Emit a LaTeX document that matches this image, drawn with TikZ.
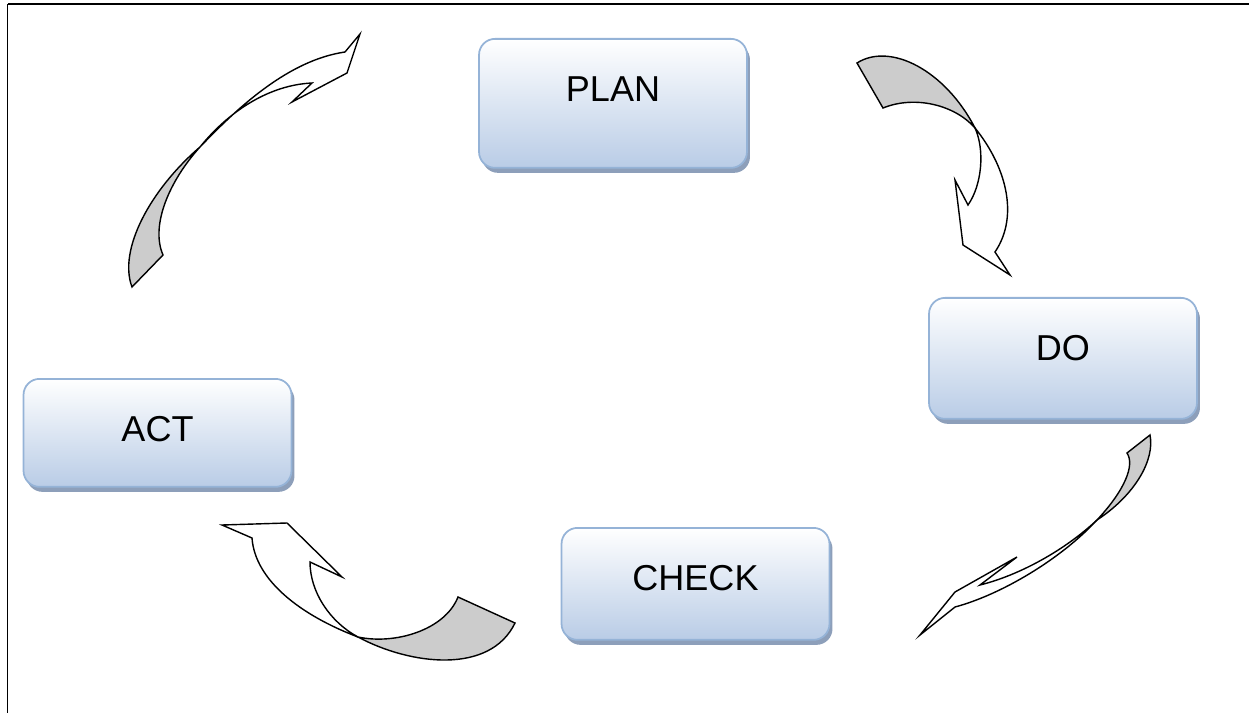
\documentclass[tikz,border=0pt]{standalone}
\usepackage{fontspec}
\setmainfont{Liberation Sans}
\usetikzlibrary{shadows}
\definecolor{boxline}{HTML}{95B3D7}
\definecolor{boxfill}{HTML}{B9CCE6}
\definecolor{boxshadow}{HTML}{8D9FBA}
\tikzset{
	pdcabox/.style={rectangle, rounded corners=0.32cm, draw=boxline, line width=1pt,
		top color=white, bottom color=boxfill,
		general shadow={fill=boxshadow, shadow xshift=0.06cm, shadow yshift=-0.1cm},
		anchor=north, inner sep=0pt, minimum width=5.36cm,
		text height=1.25cm, text depth=#1, font=\fontsize{20.5}{24}\selectfont},
	backface/.style={draw, fill=black!20, line width=0.8pt, line join=miter},
	frontface/.style={draw, fill=white, line width=0.8pt, line join=miter}
}

\begin{document}
\begin{tikzpicture}[x=0.02cm, y=-0.02cm]
		%%%%% START %%%%%
		\useasboundingbox (0, 0) rectangle (1249, 713);
		
		\draw[line width=1.1pt] (1249, 4) -- (7.5, 4);
		\draw[line width=0.6pt] (7.5, 4) -- (7.5, 713);
		
		\node[pdcabox=1.33cm] (plan) at (613, 38) {PLAN};
		\node[pdcabox=1.17cm] (do) at (1063, 297) {DO};
		\node[pdcabox=0.91cm] (act) at (157.5, 378) {ACT};
		\node[pdcabox=0.99cm] (check) at (695.5, 527) {CHECK};
		
		% plan -> do
		\draw[backface] (857, 63) .. controls (890, 42) and (945, 70) .. (975, 128)
			.. controls (955, 105) and (915, 95) .. (883, 108) -- cycle;
		\draw[frontface] (975, 128) .. controls (1005, 165) and (1020, 215) .. (995, 252)
			-- (1010, 275) -- (963, 245) -- (955, 180) -- (968, 205)
			.. controls (982, 185) and (985, 150) .. (975, 128) -- cycle;
		
		% do -> check
		\draw[backface] (1150, 435) .. controls (1155, 460) and (1135, 495) .. (1097, 520)
			.. controls (1125, 490) and (1135, 465) .. (1127, 453) -- cycle;
		\draw[frontface] (1097, 520) .. controls (1060, 560) and (1000, 595) .. (955, 607)
			-- (920, 635) -- (955, 592) -- (1017, 557) -- (980, 585)
			.. controls (1020, 575) and (1065, 550) .. (1097, 520) -- cycle;
		
		% check -> act
		\draw[backface] (515, 623) .. controls (490, 675) and (410, 665) .. (358, 637)
			.. controls (395, 645) and (445, 630) .. (458, 597) -- cycle;
		\draw[frontface] (358, 637) .. controls (300, 615) and (255, 580) .. (252, 538)
			-- (222, 525) -- (287, 523) -- (342, 577) -- (310, 562)
			.. controls (310, 592) and (330, 622) .. (358, 637) -- cycle;
		
		% act -> plan
		\draw[backface] (132, 287) .. controls (118, 250) and (150, 190) .. (200, 147)
			.. controls (170, 180) and (150, 225) .. (163, 255) -- cycle;
		\draw[frontface] (200, 147) .. controls (240, 105) and (290, 60) .. (345, 52)
			-- (360, 34) -- (347, 73) -- (292, 102) -- (312, 83)
			.. controls (270, 85) and (230, 110) .. (200, 147) -- cycle;
		
		%%%%% END %%%%%
	\end{tikzpicture}
\end{document}
